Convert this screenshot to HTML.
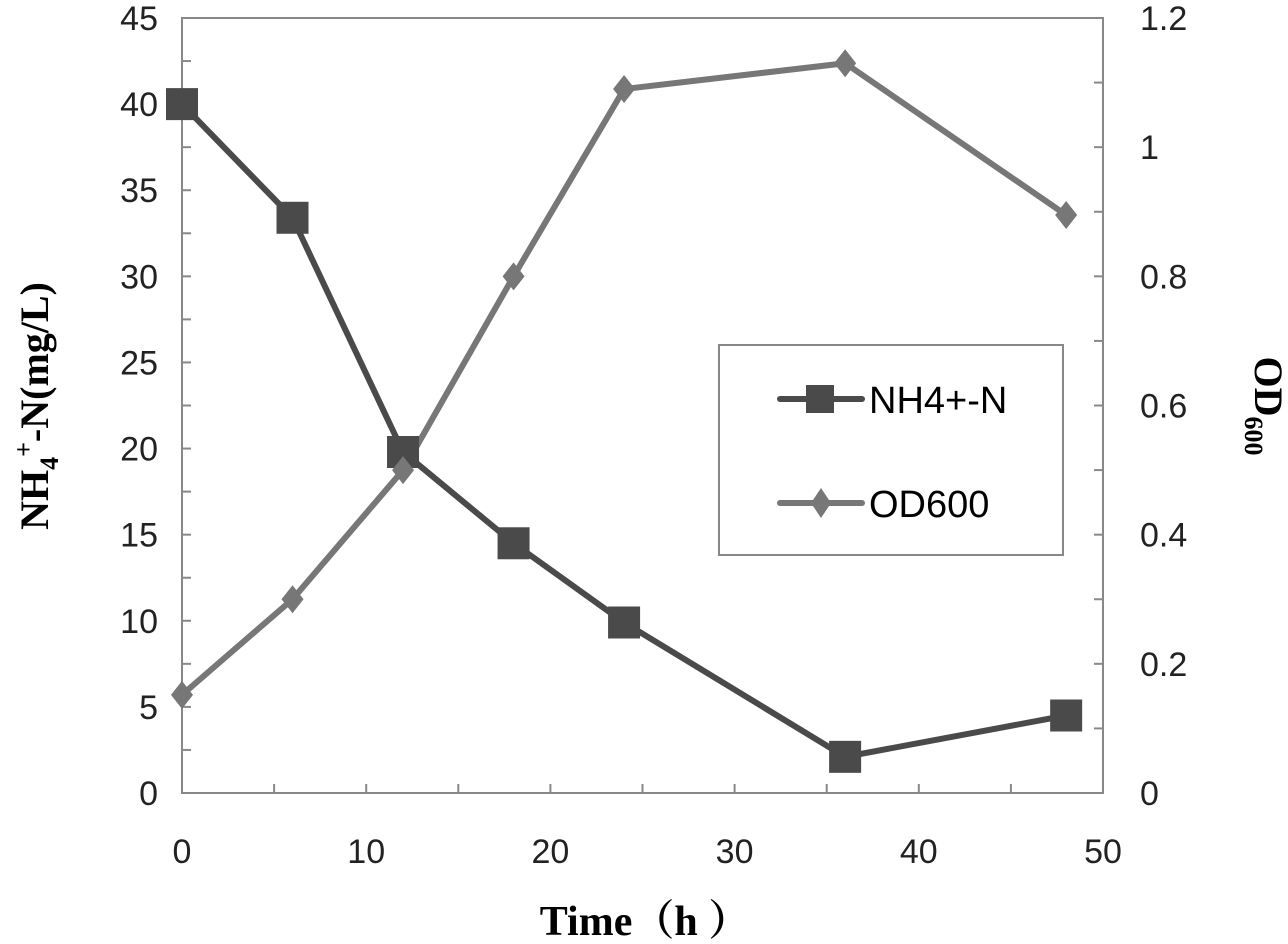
<!DOCTYPE html>
<html><head><meta charset="utf-8"><style>body{margin:0;background:#fff}svg{display:block}</style></head>
<body>
<svg id="chart" width="1288" height="944" xmlns="http://www.w3.org/2000/svg" font-family="Liberation Sans, sans-serif">
<g id="axes"></g>
<g id="series"></g>
<g>
<rect x="719" y="345" width="344" height="210" fill="#fff" stroke="#888" stroke-width="2"/>
<g>
<line x1="780" y1="399" x2="862" y2="399" stroke="#4a4a4a" stroke-width="6" stroke-linecap="round"/>
<rect x="806" y="385" width="28" height="28" fill="#4a4a4a"/>
<text x="869" y="413" font-size="38" fill="#000">NH4+-N</text></g>
<g>
<line x1="780" y1="503" x2="862" y2="503" stroke="#777" stroke-width="6" stroke-linecap="round"/>
<polygon points="821,488 831,503 821,518 811,503" fill="#777"/>
<text x="869" y="517" font-size="38" fill="#000">OD600</text></g>
</g>
<text x="645" y="935" text-anchor="middle" font-family="Liberation Serif, Noto Serif CJK SC, serif" font-weight="bold" font-size="42">Time（h ）</text>
<text transform="translate(48,406) rotate(-90)" text-anchor="middle" font-family="Liberation Serif, serif" font-weight="bold" font-size="40">NH<tspan font-size="26" dy="10">4</tspan><tspan font-size="26" dy="-26">+</tspan><tspan dy="16">-N(mg/L)</tspan></text>
<text transform="translate(1255,406) rotate(90)" text-anchor="middle" font-family="Liberation Serif, serif" font-weight="bold" font-size="40">OD<tspan font-size="26" dy="10">600</tspan></text>
</svg>
<script>
const times=[0,6,12,18,24,36,48];
const nh4=[40,33.4,19.8,14.5,9.9,2.1,4.5];
const od600=[0.152,0.30,0.50,0.80,1.09,1.13,0.895];
const xTicks=[0,10,20,30,40,50];
const yLeftTicks=[0,5,10,15,20,25,30,35,40,45];
const yRightTicks=[0,0.2,0.4,0.6,0.8,1,1.2];
const L=182,R=1103,T=18,B=793;
const xs=v=>L+(v/50)*(R-L), yl=v=>B-(v/45)*(B-T), yr=v=>B-(v/1.2)*(B-T);
const NS='http://www.w3.org/2000/svg';
function mk(tag,attrs,parent,txt){const e=document.createElementNS(NS,tag);for(const k in attrs)e.setAttribute(k,attrs[k]);if(txt!==undefined)e.textContent=txt;parent.appendChild(e);return e;}
const ax=document.getElementById('axes'), se=document.getElementById('series');
let f=mk('rect',{x:L,y:T,width:R-L,height:B-T,fill:'none',stroke:'#888','stroke-width':2},ax);


for(let v=0;v<=45;v+=2.5){let t=mk('line',{x1:L,x2:L+9,y1:yl(v),y2:yl(v),stroke:'#888','stroke-width':2},ax);

}
for(let v=0;v<=1.2001;v+=0.1){let t=mk('line',{x1:R-9,x2:R,y1:yr(v),y2:yr(v),stroke:'#888','stroke-width':2},ax);

}
for(let v=0;v<=50;v+=5){let t=mk('line',{x1:xs(v),x2:xs(v),y1:B,y2:B-9,stroke:'#888','stroke-width':2},ax);

}
yLeftTicks.forEach(v=>{let t=mk('text',{x:L-24,y:yl(v)+12,'text-anchor':'end','font-size':34,fill:'#222'},ax,String(v));

});
yRightTicks.forEach(v=>{let t=mk('text',{x:R+37,y:yr(v)+12,'text-anchor':'start','font-size':34,fill:'#222'},ax,String(v));

});
xTicks.forEach(v=>{let t=mk('text',{x:xs(v),y:B+70,'text-anchor':'middle','font-size':34,fill:'#222'},ax,String(v));

});
let p1=mk('polyline',{points:times.map((t,i)=>xs(t)+','+yl(nh4[i])).join(' '),fill:'none',stroke:'#4a4a4a','stroke-width':6},se);


let p2=mk('polyline',{points:times.map((t,i)=>xs(t)+','+yr(od600[i])).join(' '),fill:'none',stroke:'#777','stroke-width':6},se);


times.forEach((t,i)=>{const x=xs(t),y=yl(nh4[i]);let m=mk('rect',{x:x-16,y:y-16,width:32,height:32,fill:'#4a4a4a'},se);

});
times.forEach((t,i)=>{const x=xs(t),y=yr(od600[i]);let m=mk('polygon',{points:`${x},${y-14} ${x+11},${y} ${x},${y+14} ${x-11},${y}`,fill:'#777'},se);

});
</script>
</body></html>
